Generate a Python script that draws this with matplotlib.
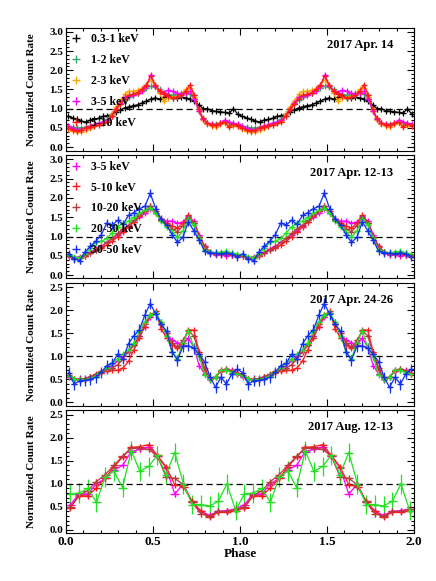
import numpy as np
import matplotlib
matplotlib.use("Agg")
import matplotlib.pyplot as plt
from matplotlib.ticker import MultipleLocator
from matplotlib.lines import Line2D

plt.rcParams['font.family'] = ['Liberation Serif', 'DejaVu Serif']
plt.rcParams['font.weight'] = 'bold'
plt.rcParams['axes.labelweight'] = 'bold'

# ---------------- data (one cycle; plotted twice) ----------------
# Panel 1: 2017 Apr. 14, 40 phase bins
p1_labels = ['0.3-1 keV', '1-2 keV', '2-3 keV', '3-5 keV', '5-10 keV']
p1_colors = ['#000000', '#3aa572', '#ffa500', '#ff00ff', '#ff1a1a']
p1_err = [0.02, 0.025, 0.035, 0.035, 0.035]
p1_black = [0.80, 0.76, 0.72, 0.68, 0.65, 0.70, 0.72, 0.75, 0.80, 0.82,
            0.85, 0.92, 0.97, 1.02, 1.05, 1.08, 1.10, 1.15, 1.20, 1.25,
            1.28, 1.25, 1.30, 1.35, 1.28, 1.27, 1.30, 1.28, 1.25, 1.20,
            1.10, 1.00, 1.00, 0.95, 0.93, 0.92, 0.90, 0.88, 1.00, 0.85]
p1_green = [0.55, 0.52, 0.50, 0.50, 0.52, 0.55, 0.58, 0.62, 0.65, 0.72,
            0.85, 1.00, 1.12, 1.22, 1.30, 1.35, 1.40, 1.48, 1.55, 1.58,
            1.57, 1.50, 1.42, 1.38, 1.35, 1.38, 1.40, 1.40, 1.38, 1.25,
            0.95, 0.72, 0.62, 0.60, 0.60, 0.62, 0.65, 0.62, 0.60, 0.58]
p1_orange = [0.48, 0.42, 0.38, 0.40, 0.45, 0.50, 0.55, 0.58, 0.62, 0.68,
             0.85, 1.05, 1.20, 1.38, 1.45, 1.45, 1.48, 1.52, 1.62, 1.75,
             1.58, 1.40, 1.20, 1.28, 1.30, 1.32, 1.38, 1.50, 1.55, 1.30,
             0.95, 0.70, 0.60, 0.55, 0.52, 0.60, 0.62, 0.55, 0.55, 0.55]
p1_magenta = [0.55, 0.50, 0.45, 0.45, 0.50, 0.55, 0.58, 0.62, 0.65, 0.70,
              0.82, 1.00, 1.15, 1.30, 1.32, 1.35, 1.40, 1.45, 1.60, 1.88,
              1.60, 1.45, 1.42, 1.48, 1.45, 1.40, 1.38, 1.42, 1.45, 1.25,
              0.95, 0.72, 0.62, 0.60, 0.58, 0.62, 0.70, 0.65, 0.62, 0.60]
p1_red = [0.50, 0.45, 0.42, 0.45, 0.50, 0.52, 0.55, 0.58, 0.62, 0.66,
          0.80, 0.98, 1.12, 1.25, 1.35, 1.38, 1.42, 1.50, 1.62, 1.85,
          1.62, 1.45, 1.38, 1.32, 1.28, 1.30, 1.35, 1.45, 1.62, 1.35,
          1.00, 0.75, 0.62, 0.58, 0.58, 0.62, 0.65, 0.52, 0.60, 0.55]

# Panel 2: 2017 Apr. 12-13, 32 phase bins
p2_labels = ['3-5 keV', '5-10 keV', '10-20 keV', '20-30 keV', '30-50 keV']
p2_colors = ['#ff00ff', '#ff1a1a', '#b83a3a', '#22e022', '#1030f0']
p2_err = [0.03, 0.03, 0.04, 0.05, 0.10]
p2_magenta = [0.50, 0.45, 0.48, 0.52, 0.60, 0.68, 0.75, 0.85, 0.95, 1.05,
              1.15, 1.28, 1.38, 1.50, 1.60, 1.72, 1.60, 1.45, 1.40, 1.40,
              1.35, 1.38, 1.52, 1.40, 1.05, 0.75, 0.58, 0.52, 0.55, 0.50,
              0.52, 0.52]
p2_red = [0.50, 0.45, 0.45, 0.50, 0.58, 0.65, 0.70, 0.78, 0.88, 1.00,
          1.12, 1.25, 1.38, 1.52, 1.65, 1.80, 1.65, 1.45, 1.35, 1.28,
          1.22, 1.35, 1.55, 1.35, 1.00, 0.75, 0.60, 0.55, 0.55, 0.55,
          0.52, 0.50]
p2_brown = [0.50, 0.45, 0.45, 0.50, 0.58, 0.66, 0.74, 0.85, 0.95, 1.08,
            1.20, 1.30, 1.42, 1.55, 1.65, 1.78, 1.62, 1.42, 1.30, 1.20,
            1.12, 1.28, 1.50, 1.35, 1.00, 0.72, 0.60, 0.55, 0.55, 0.58,
            0.55, 0.50]
p2_green = [0.52, 0.48, 0.45, 0.55, 0.70, 0.85, 0.88, 0.95, 1.10, 1.25,
            1.35, 1.40, 1.50, 1.60, 1.68, 1.75, 1.60, 1.40, 1.25, 1.12,
            0.98, 1.15, 1.45, 1.30, 0.95, 0.65, 0.60, 0.58, 0.60, 0.62,
            0.58, 0.55]
p2_blue = [0.55, 0.42, 0.38, 0.60, 0.75, 0.88, 1.05, 1.35, 1.30, 1.42,
           1.32, 1.55, 1.62, 1.72, 1.78, 2.12, 1.72, 1.45, 1.30, 1.05,
           0.85, 0.98, 1.38, 1.15, 0.90, 0.62, 0.58, 0.57, 0.55, 0.58,
           0.55, 0.48]

# Panel 3: 2017 Apr. 24-26, 32 phase bins
p3_colors = p2_colors
p3_err = [0.03, 0.03, 0.04, 0.05, 0.12]
p3_magenta = [0.55, 0.50, 0.50, 0.52, 0.56, 0.60, 0.66, 0.72, 0.80, 0.90,
              1.00, 1.10, 1.25, 1.45, 1.65, 1.85, 1.95, 1.70, 1.50, 1.35,
              1.30, 1.25, 1.40, 1.20, 0.80, 0.62, 0.50, 0.55, 0.68, 0.72,
              0.70, 0.62]
p3_red = [0.60, 0.52, 0.50, 0.52, 0.55, 0.60, 0.65, 0.68, 0.70, 0.70,
          0.75, 0.90, 1.15, 1.40, 1.65, 1.90, 1.98, 1.60, 1.40, 1.25,
          1.18, 1.30, 1.58, 1.57, 1.10, 0.75, 0.50, 0.55, 0.68, 0.72,
          0.68, 0.65]
p3_brown = [0.58, 0.50, 0.50, 0.52, 0.56, 0.62, 0.68, 0.70, 0.75, 0.82,
            0.95, 1.10, 1.25, 1.45, 1.70, 1.90, 1.95, 1.70, 1.50, 1.30,
            1.20, 1.35, 1.55, 1.45, 1.05, 0.70, 0.52, 0.55, 0.70, 0.72,
            0.68, 0.62]
p3_green = [0.58, 0.52, 0.48, 0.50, 0.52, 0.58, 0.66, 0.75, 0.85, 0.95,
            1.05, 1.15, 1.30, 1.55, 1.75, 1.90, 1.95, 1.75, 1.45, 1.10,
            0.95, 1.30, 1.55, 1.20, 1.00, 0.60, 0.52, 0.55, 0.70, 0.70,
            0.65, 0.62]
p3_blue = [0.65, 0.40, 0.47, 0.48, 0.50, 0.55, 0.66, 0.80, 0.85, 1.05,
           0.95, 1.28, 1.45, 1.58, 1.90, 2.15, 1.92, 1.70, 1.55, 1.10,
           0.92, 1.22, 1.23, 1.18, 1.05, 0.88, 0.55, 0.33, 0.55, 0.40,
           0.62, 0.72]

# Panel 4: 2017 Aug. 12-13, 20 phase bins
p4_colors = ['#ff00ff', '#ff1a1a', '#b83a3a', '#22e022']
p4_err = [0.06, 0.05, 0.06, 0.21]
p4_magenta = [0.55, 0.78, 0.78, 1.00, 1.12, 1.30, 1.40, 1.70, 1.75, 1.80,
              1.60, 1.35, 0.78, 1.00, 0.60, 0.40, 0.32, 0.40, 0.42, 0.45]
p4_red = [0.48, 0.74, 0.74, 0.91, 1.12, 1.37, 1.58, 1.79, 1.81, 1.85,
          1.62, 1.37, 0.98, 0.94, 0.62, 0.41, 0.28, 0.38, 0.39, 0.41]
p4_brown = [0.50, 0.75, 0.85, 1.05, 1.20, 1.40, 1.60, 1.78, 1.78, 1.75,
            1.60, 1.15, 1.12, 0.98, 0.60, 0.35, 0.30, 0.40, 0.40, 0.45]
p4_green = [0.78, 0.80, 0.90, 0.60, 1.15, 1.28, 0.92, 1.72, 1.27, 1.38,
            1.62, 1.20, 1.68, 1.00, 0.55, 0.55, 0.52, 0.62, 1.00, 0.42]

titles = ['2017 Apr. 14', '2017 Apr. 12-13', '2017 Apr. 24-26', '2017 Aug. 12-13']
xticks = [0.0, 0.5, 1.0, 1.5, 2.0]
xticklabels = ['0.0', '0.5', '1.0', '1.5', '2.0']

panels = [
    dict(series=[p1_black, p1_green, p1_orange, p1_magenta, p1_red],
         colors=p1_colors, errs=p1_err, labels=p1_labels, ylim=(-0.1, 3.1), ymax=3.0),
    dict(series=[p2_magenta, p2_red, p2_brown, p2_green, p2_blue],
         colors=p2_colors, errs=p2_err, labels=p2_labels, ylim=(-0.08, 3.1), ymax=3.0),
    dict(series=[p3_magenta, p3_red, p3_brown, p3_green, p3_blue],
         colors=p3_colors, errs=p3_err, labels=None, ylim=(-0.07, 2.6), ymax=2.5),
    dict(series=[p4_magenta, p4_red, p4_brown, p4_green],
         colors=p4_colors, errs=p4_err, labels=None, ylim=(-0.07, 2.6), ymax=2.5),
]

W, H = 436, 581
fig = plt.figure(figsize=(W / 100, H / 100), dpi=100)
left, right = 66, 414
top0, gap, h = 28, 4.5, 122.9

for i, p in enumerate(panels):
    top = top0 + i * (h + gap)
    ax = fig.add_axes([left / W, 1 - (top + h) / H, (right - left) / W, h / H])
    for ys, c, e in zip(p['series'], p['colors'], p['errs']):
        n = len(ys)
        ph = (np.arange(n) + 0.5) / n
        x = np.concatenate([ph, ph + 1])
        y = np.concatenate([ys, ys])
        ax.errorbar(x, y, xerr=0.5 / n, yerr=e, color=c, lw=0.9, elinewidth=0.9,
                    marker='+', ms=4, mew=0.9, capsize=0)
    ax.axhline(1.0, color='black', lw=0.9, ls=(0, (5, 3)))
    ax.set_xlim(0, 2)
    ax.set_ylim(*p['ylim'])
    yt = np.arange(0, p['ymax'] + 0.01, 0.5)
    ax.set_yticks(yt)
    ax.set_yticklabels(['%.1f' % v for v in yt], fontsize=8)
    ax.yaxis.set_minor_locator(MultipleLocator(0.1))
    ax.set_xticks(xticks)
    ax.xaxis.set_minor_locator(MultipleLocator(0.1))
    if i == 3:
        ax.set_xticklabels(xticklabels, fontsize=9.5)
        ax.set_xlabel('Phase', fontsize=9.5, labelpad=0)
    else:
        ax.set_xticklabels([])
    ax.tick_params(which='both', direction='in', top=True, right=True, width=0.8)
    ax.tick_params(which='major', length=5, pad=2)
    ax.tick_params(which='minor', length=2.5)
    for s in ax.spines.values():
        s.set_linewidth(0.8)
    ax.set_ylabel('Normalized Count Rate', fontsize=8)
    ax.yaxis.set_label_coords(-0.085, 0.5)
    ax.text(0.94, 0.86, titles[i], transform=ax.transAxes, ha='right', va='center',
            fontsize=9, fontweight='bold')
    if p['labels']:
        handles = [Line2D([], [], color=c, marker='+', ls='none', ms=6, mew=1.0)
                   for c in p['colors']]
        ax.legend(handles, p['labels'], loc='upper left', frameon=False,
                  fontsize=8.5, labelspacing=0.75, handlelength=0.8,
                  handletextpad=0.9, borderaxespad=0.25, borderpad=0.2)

fig.savefig('out.png', dpi=100)
